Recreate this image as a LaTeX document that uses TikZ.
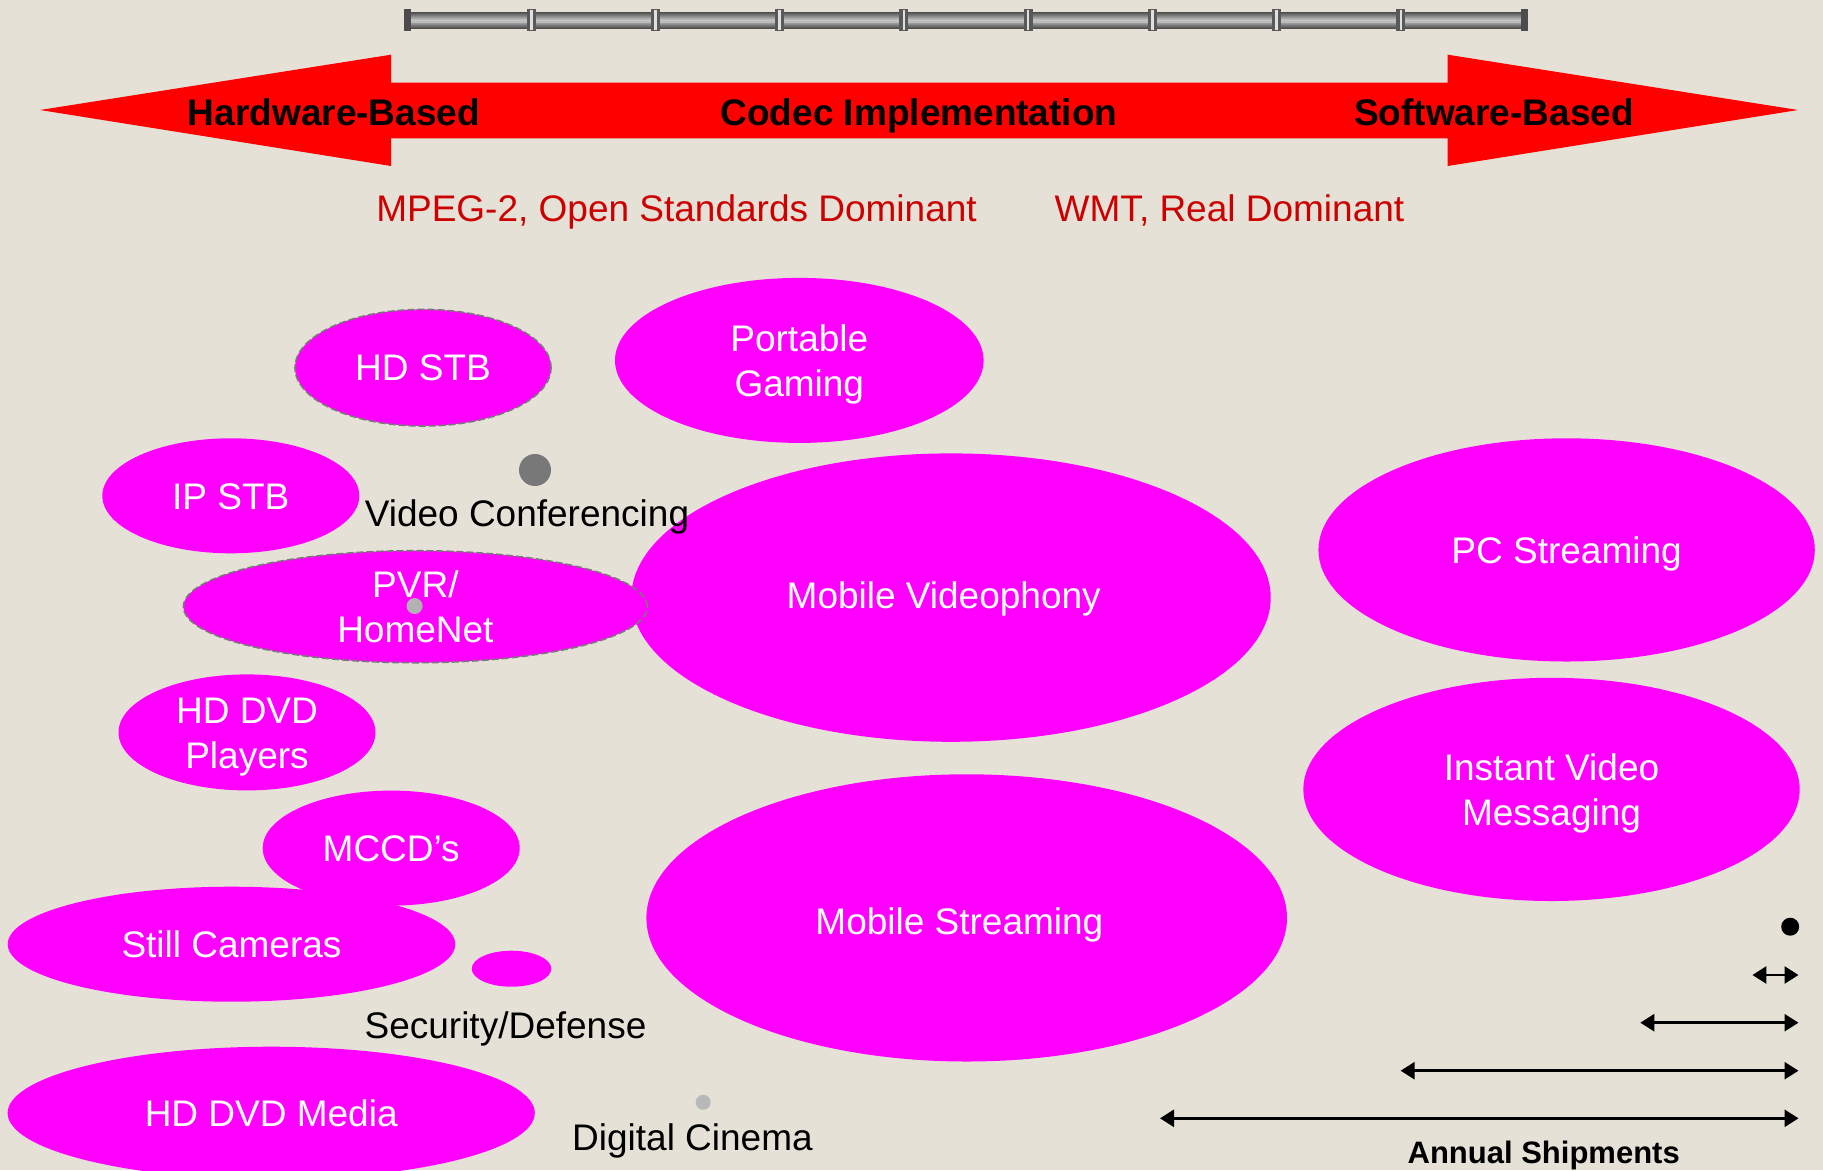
\documentclass[tikz,border=0pt]{standalone}
\usepackage{fontspec}
\setmainfont{Liberation Sans}
\usetikzlibrary{shapes.geometric,arrows.meta}
\definecolor{paper}{RGB}{229,225,215}
\definecolor{blobfill}{RGB}{255,0,255}
\definecolor{dimred}{RGB}{204,0,0}
\definecolor{pipegray}{RGB}{120,120,120}
\tikzset{
  bigfont/.style={font=\fontsize{37}{45}\selectfont},
  blob/.style={shape=ellipse, fill=blobfill, draw=none, inner sep=0pt,
    text=white, bigfont, align=center, text depth=0pt},
  oneline/.style={text height=26.5pt},
  twoline/.style={text height=71.5pt},
  rim/.style={draw=pipegray, dash pattern=on 7pt off 3pt, line width=1.6pt},
  caption/.style={bigfont, inner sep=0pt, anchor=base},
  headline/.style={font=\fontsize{37}{45}\selectfont\bfseries, inner sep=0pt, anchor=base},
  spot/.style={circle, inner sep=0pt, draw=none},
  span/.style={line width=2.6pt, arrows={Triangle[length=14pt,width=17pt]-Triangle[length=14pt,width=17pt]}},
}
\begin{document}
\begin{tikzpicture}[x=1pt,y=-1pt]
% parchment background fixes the page size
\fill[paper] (0,0) rectangle (1823,1170);
\useasboundingbox (0,0) rectangle (1823,1170);

% segmented scale bar along the top
\shade[top color=black!70, bottom color=black!70, middle color=black!22] (407,12) rectangle (1525,28);
\fill[black!25] (407,21.5) rectangle (1525,23);
\foreach \jx in {531.2,655.4,779.7,903.9,1028.1,1152.3,1276.5,1400.8}{
  \fill[black!65] (\jx-4.5,9) rectangle (\jx+4.5,31);
  \fill[white!88!black] (\jx-1.3,10) rectangle (\jx+1.3,30);
}
\fill[black!70] (404,9) rectangle (411,31);
\fill[black!70] (1521,9) rectangle (1528,31);

% double-headed red arrow
\fill[red] (40,110) -- (391,54.7) -- (391,82.7) -- (1447.7,82.7) -- (1447.7,54.7)
  -- (1798,110) -- (1447.7,166) -- (1447.7,138.3) -- (391,138.3) -- (391,166) -- cycle;
\node[headline] (hw) at (334,125) {Hardware-Based};
\node[headline] (codec) at (919,125) {Codec Implementation};
\node[headline] (sw) at (1494,125) {Software-Based};

\node[caption, text=dimred] (mpeg) at (676.5,221.7) {MPEG-2, Open Standards Dominant};
\node[caption, text=dimred] (wmt) at (1229.5,221.7) {WMT, Real Dominant};

% large markets
\node[blob, text height=22.5pt, minimum width=639.4pt, minimum height=288.4pt] (mvp) at (951,597.6) {\kern-14.6pt Mobile Videophony};
\node[blob, text height=33.3pt, minimum width=640.6pt, minimum height=287.2pt] (mstr) at (966.7,917.9) {\kern-14.6pt Mobile Streaming};
\node[blob, oneline, minimum width=496.4pt, minimum height=223.2pt] (pcs) at (1566.6,549.9) {PC Streaming};
\node[blob, twoline, minimum width=496.4pt, minimum height=223.2pt] (ivm) at (1551.5,789.4) {Instant Video\\Messaging};
\node[blob, twoline, minimum width=368.6pt, minimum height=165pt] (pg) at (799.3,360.4) {Portable\\Gaming};

% smaller markets
\node[blob, oneline, minimum width=257pt, minimum height=115pt] (ipstb) at (230.8,495.8) {IP STB};
\node[blob, twoline, minimum width=257pt, minimum height=116pt] (hddvdp) at (247,732.4) {HD DVD\\Players};
\node[blob, oneline, minimum width=257pt, minimum height=115pt] (mccd) at (391.2,848.1) {MCCD’s};
\node[blob, oneline, minimum width=447.6pt, minimum height=115pt] (still) at (231.5,944.2) {Still Cameras};
\node[blob, oneline, minimum width=527.2pt, minimum height=132.6pt] (hddvdm) at (271.2,1113) {HD DVD Media};
\node[blob, minimum width=79.6pt, minimum height=36pt] (secdef) at (511.5,968.7) {};

% emerging markets with dashed rims
\node[blob, rim, oneline, minimum width=256pt, minimum height=116.6pt] (hdstb) at (423,367.7) {HD STB};
\node[blob, rim, twoline, minimum width=464pt, minimum height=112pt] (pvr) at (415.4,606.7) {PVR/\\HomeNet};
\node[spot, fill=black!30, minimum size=16pt] (pvrdot) at (414.6,606) {};

% markets shown as dots
\node[spot, fill=pipegray, minimum size=32pt] (vcdot) at (535,470) {};
\node[caption] (vc) at (527,526.7) {Video Conferencing};
\node[caption] (sd) at (505.5,1038.3) {Security/Defense};
\node[spot, fill=black!28, minimum size=15pt] (dcdot) at (703.2,1102.3) {};
\node[caption] (dc) at (692.5,1150) {Digital Cinema};

% shipment-volume key
\node[spot, fill=black, minimum size=18pt] (k0) at (1790.2,926.7) {};
\coordinate (k1a) at (1752.4,975);   \coordinate (k1b) at (1798.5,975);
\coordinate (k2a) at (1640.3,1022.7); \coordinate (k2b) at (1798.5,1022.7);
\coordinate (k3a) at (1400.6,1070.7); \coordinate (k3b) at (1798.5,1070.7);
\coordinate (k4a) at (1160,1118.3);   \coordinate (k4b) at (1798.5,1118.3);
\draw[span] (k1a) -- (k1b);
\draw[span] (k2a) -- (k2b);
\draw[span] (k3a) -- (k3b);
\draw[span] (k4a) -- (k4b);
\node[font=\fontsize{31}{37}\selectfont\bfseries, inner sep=0pt, anchor=base] (ship) at (1543.7,1163.3) {Annual Shipments};
\end{tikzpicture}
\end{document}
